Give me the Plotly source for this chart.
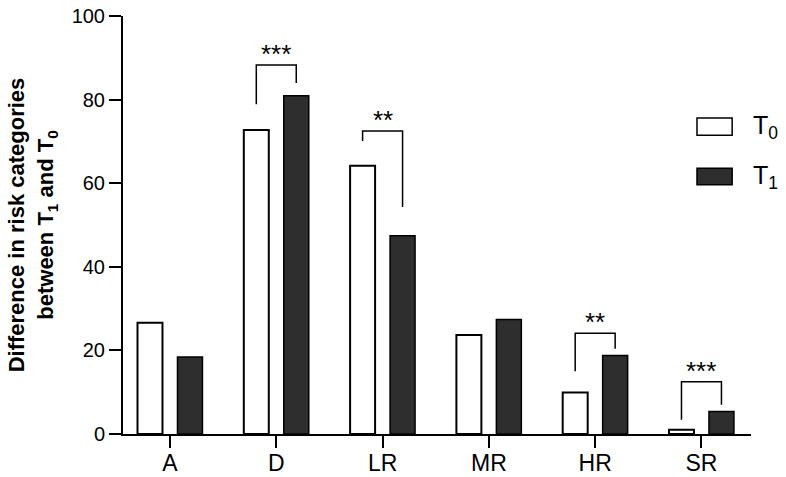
import plotly.graph_objects as go

# dados
categorias = ['A', 'D', 'LR', 'MR', 'HR', 'SR']
valores_t0 = [26.6, 72.7, 64.2, 23.7, 9.9, 1.0]
valores_t1 = [18.4, 80.9, 47.4, 27.4, 18.8, 5.4]

# colchetes de significância: categoria, perna esquerda, topo, perna direita, estrelas
sig_categoria = ['D', 'LR', 'HR', 'SR']
sig_esquerda = [78.9, 70.1, 15.0, 3.4]
sig_topo = [88.3, 72.5, 24.1, 12.5]
sig_direita = [84.0, 54.3, 20.4, 7.0]
sig_texto = ['***', '**', '**', '***']

bargap = 0.248
bargroupgap = 0.375
desloc = (1 - bargap) / 4  # centro de cada barra dentro do grupo

fonte = 'Liberation Sans, Arial, sans-serif'
x = list(range(len(categorias)))

fig = go.Figure(
    [
        go.Bar(
            x=x,
            y=valores_t0,
            name='T<sub>0</sub>',
            marker=dict(color='white', line=dict(color='black', width=2)),
            showlegend=False
        ),
        go.Bar(
            x=x,
            y=valores_t1,
            name='T<sub>1</sub>',
            marker=dict(color='#2e2e2e', line=dict(color='black', width=1.5)),
            showlegend=False
        )
    ]
)

for cat, esq, topo, dire, txt in zip(sig_categoria, sig_esquerda, sig_topo,
                                     sig_direita, sig_texto):
    i = categorias.index(cat)
    fig.add_trace(
        go.Scatter(
            x=[i - desloc, i - desloc, i + desloc, i + desloc],
            y=[esq, topo, topo, dire],
            mode='lines',
            line=dict(color='black', width=1.5),
            showlegend=False,
            hoverinfo='skip'
        )
    )
    fig.add_annotation(
        x=i, y=topo, text=txt, showarrow=False,
        yanchor='bottom', yshift=-6,
        font=dict(size=26, color='black', family=fonte)
    )

# legenda desenhada à mão (caixas maiores que a legenda padrão)
legenda = [('T<sub>0</sub>', 'white', 0.715, 0.756),
           ('T<sub>1</sub>', '#2e2e2e', 0.596, 0.636)]
for texto, cor, y0, y1 in legenda:
    fig.add_shape(
        type='rect', xref='paper', yref='paper',
        x0=0.914, x1=0.970, y0=y0, y1=y1,
        fillcolor=cor, line=dict(color='black', width=1.5)
    )
    fig.add_annotation(
        xref='paper', yref='paper', x=1.0, y=(y0 + y1) / 2,
        text=texto, showarrow=False, xanchor='left', yanchor='middle',
        font=dict(size=25, color='black', family=fonte)
    )

fig.update_layout(
    width=786,
    height=477,
    barmode='group',
    bargap=bargap,
    bargroupgap=bargroupgap,
    plot_bgcolor='white',
    paper_bgcolor='white',
    font=dict(family=fonte, color='black'),
    margin=dict(l=123, r=35, t=16, b=43),
    xaxis=dict(
        range=[-0.442, 5.466],
        tickvals=x,
        ticktext=categorias,
        automargin=False,
        showline=True,
        linecolor='black',
        linewidth=2,
        ticks='outside',
        ticklen=12,
        tickwidth=2,
        tickcolor='black',
        tickfont=dict(size=23),
        ticklabelstandoff=-5,
        showgrid=False,
        zeroline=False
    ),
    yaxis=dict(
        range=[0, 100],
        tickvals=[0, 20, 40, 60, 80, 100],
        automargin=False,
        showline=True,
        linecolor='black',
        linewidth=2,
        ticks='outside',
        ticklen=12,
        tickwidth=2,
        tickcolor='black',
        tickfont=dict(size=20),
        showgrid=False,
        zeroline=False,
        title=dict(
            text='<b>Difference in risk categories<br>'
                 'between T<sub>1</sub> and T<sub>0</sub></b>',
            font=dict(size=22),
            standoff=12
        )
    )
)

fig.write_html(
    'out.html',
    config={'displayModeBar': False},
    post_script="document.body.style.margin='0';"
                "document.body.style.overflow='hidden';"
)
